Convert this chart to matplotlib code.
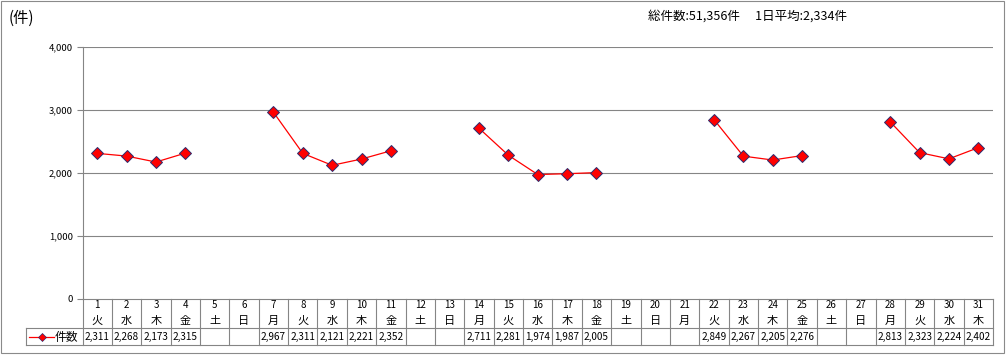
import numpy as np
import matplotlib
matplotlib.use("Agg")
import matplotlib.pyplot as plt
from matplotlib.patches import Rectangle

plt.rcParams['font.family'] = ['Noto Sans CJK JP', 'DejaVu Sans']

# data
days = list(range(1, 32))
weekdays = ["火", "水", "木", "金", "土", "日", "月",
            "火", "水", "木", "金", "土", "日", "月",
            "火", "水", "木", "金", "土", "日", "月",
            "火", "水", "木", "金", "土", "日", "月",
            "火", "水", "木"]
counts = [2311, 2268, 2173, 2315, None, None, 2967,
          2311, 2121, 2221, 2352, None, None, 2711,
          2281, 1974, 1987, 2005, None, None, None,
          2849, 2267, 2205, 2276, None, None, 2813,
          2323, 2224, 2402]
series_name = "件数"
total_text = "総件数:51,356件　 1日平均:2,334件"
yticks = [0, 1000, 2000, 3000, 4000]

W, H = 1006, 355
fig = plt.figure(figsize=(W / 100, H / 100), dpi=100)

# plot area in pixels
px_l, px_r, px_t, px_b = 82.5, 993, 47.3, 298.5
ax = fig.add_axes([px_l / W, (H - px_b) / H, (px_r - px_l) / W, (px_b - px_t) / H])

grid_c = "#858585"
y = np.array([np.nan if v is None else v for v in counts], dtype=float)
ax.plot(days, y, color="#FF0000", lw=0.9,
        marker="D", markersize=5.8, markerfacecolor="#FF0000",
        markeredgecolor="#2B2B6E", markeredgewidth=0.7, zorder=3)

ax.set_xlim(0.5, 31.5)
ax.set_ylim(0, 4000)
ax.set_yticks(yticks)
ax.set_yticklabels([f"{v:,}" for v in yticks], fontsize=6.8)
ax.set_xticks([])
for v in yticks[1:]:
    ax.axhline(v, color=grid_c, lw=0.8, zorder=1)
for s in ["top", "right"]:
    ax.spines[s].set_visible(False)
for s in ["left", "bottom"]:
    ax.spines[s].set_color(grid_c)
    ax.spines[s].set_linewidth(0.8)
ax.tick_params(axis="y", length=4, width=0.8, color=grid_c, pad=3)

# data table below plot
ah = px_b - px_t
def ya(py):
    return (px_b - py) / ah

xt = ax.get_xaxis_transform()
row_top, row_mid, row_bot = ya(298.5), ya(328), ya(345)
for k in range(len(days) + 1):
    ax.plot([k + 0.5, k + 0.5], [row_top, row_bot], color=grid_c, lw=0.8,
            transform=xt, clip_on=False)
leg_left = 0.5 + (25.7 - px_l) / ((px_r - px_l) / 31)
for yy in (row_mid, row_bot):
    ax.plot([leg_left, 31.5], [yy, yy], color=grid_c, lw=0.8, transform=xt, clip_on=False)
ax.plot([leg_left, leg_left], [row_mid, row_bot], color=grid_c, lw=0.8,
        transform=xt, clip_on=False)

for d, wd, v in zip(days, weekdays, counts):
    ax.text(d, ya(305.5), str(d), transform=xt, ha="center", va="center", fontsize=7)
    ax.text(d, ya(321), wd, transform=xt, ha="center", va="center", fontsize=8)
    if v is not None:
        ax.text(d, ya(337), f"{v:,}", transform=xt, ha="center", va="center", fontsize=7.2)

# legend key in table
cw = (px_r - px_l) / 31
def xd(px):
    return 0.5 + (px - px_l) / cw
ax.plot([xd(29), xd(54)], [ya(337), ya(337)], color="#FF0000", lw=0.9,
        transform=xt, clip_on=False)
ax.plot([xd(42)], [ya(337)], marker="D", markersize=3.8, color="#FF0000",
        markeredgecolor="#2B2B6E", markeredgewidth=0.5, transform=xt, clip_on=False)
ax.text(xd(55), ya(337), series_name, transform=xt, ha="left", va="center", fontsize=8.5)

# titles
fig.text(9 / W, 1 - 18 / H, "(件)", fontsize=11, ha="left", va="center")
fig.text(648 / W, 1 - 16 / H, total_text, fontsize=9, ha="left", va="center")

# outer border
fig.patches.append(Rectangle((1 / W, 1 - 353 / H), 1003 / W, 352 / H,
                             transform=fig.transFigure, fill=False,
                             edgecolor="#8A8A8A", lw=0.8))

fig.savefig("out.png", dpi=100)
